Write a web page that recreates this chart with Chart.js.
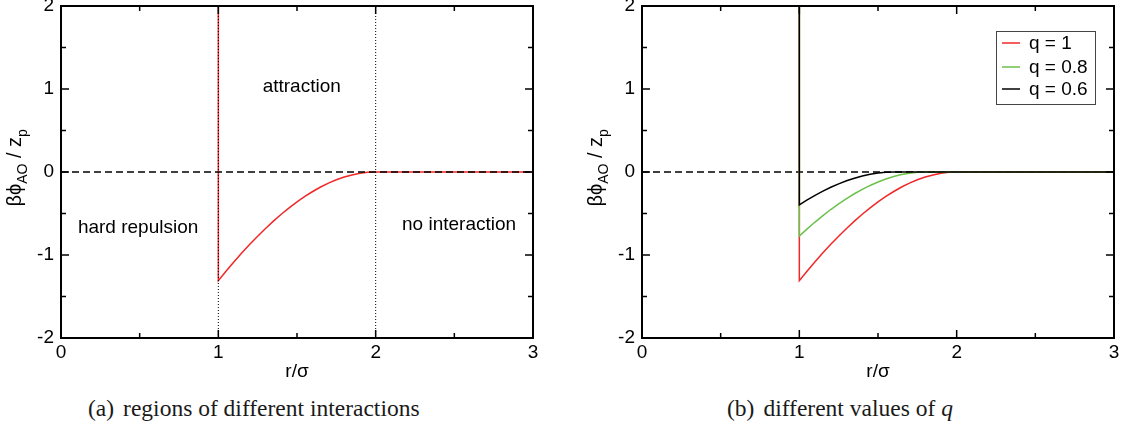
<!DOCTYPE html>
<html>
<head>
<meta charset="utf-8">
<script src="https://cdn.jsdelivr.net/npm/chart.js@4.4.1/dist/chart.umd.min.js"></script>
<style>
  html, body { margin: 0; padding: 0; background: #fff; }
  body { width: 1128px; height: 430px; position: relative; overflow: hidden; }
  canvas { position: absolute; top: -20px; }
  #chartA { left: 0; }
  #chartB { left: 560px; }
  .caption {
    position: absolute; top: 396px; line-height: 24px;
    font-family: "Liberation Serif", "DejaVu Serif", serif; font-size: 23.5px;
    color: #1a1a1a; white-space: nowrap;
  }
  .caption .tag { margin-right: 9px; }
</style>
</head>
<body>
<canvas id="chartA" width="560" height="410"></canvas>
<canvas id="chartB" width="568" height="410"></canvas>
<div class="caption" style="left: 88px;"><span class="tag">(a)</span>regions of different interactions</div>
<div class="caption" style="left: 727px;"><span class="tag">(b)</span>different values of <i>q</i></div>

<script>
// Axis ticks
const xTicks = [0, 1, 2, 3];
const yTicks = [-2, -1, 0, 1, 2];

// Hard core part for r < σ (shown at the top of the axis)
const coreR = [0];
const coreTop = [2];

// βϕ_AO / z_p against r/σ for each size ratio q
const rQ1 = [1, 1.00, 1.05, 1.10, 1.15, 1.20, 1.25, 1.30, 1.35, 1.40, 1.45, 1.50,
             1.55, 1.60, 1.65, 1.70, 1.75, 1.80, 1.85, 1.90, 1.95, 2.00, 3];
const phiQ1 = [2, -1.309, -1.193, -1.082, -0.974, -0.871, -0.773, -0.680, -0.592, -0.509, -0.432, -0.360,
               -0.294, -0.235, -0.181, -0.134, -0.094, -0.061, -0.035, -0.015, -0.004, 0, 0];

const rQ08 = [1, 1.00, 1.05, 1.10, 1.15, 1.20, 1.25, 1.30, 1.35, 1.40, 1.45, 1.50,
              1.55, 1.60, 1.65, 1.70, 1.75, 1.80, 3];
const phiQ08 = [2, -0.771, -0.685, -0.603, -0.525, -0.452, -0.384, -0.321, -0.262, -0.209, -0.162, -0.120,
                -0.084, -0.055, -0.031, -0.014, -0.004, 0, 0];

const rQ06 = [1, 1.00, 1.05, 1.10, 1.15, 1.20, 1.25, 1.30, 1.35, 1.40, 1.45, 1.50, 1.55, 1.60, 3];
const phiQ06 = [2, -0.396, -0.337, -0.281, -0.231, -0.184, -0.143, -0.106, -0.075, -0.048, -0.027, -0.012,
                -0.003, 0, 0];

const qLabels = ["q = 1", "q = 0.8", "q = 0.6"];
const qColors = ["#f02828", "#6cc04c", "#000000"];

// Zero line and the borders of the attraction range (σ and 2σ for q = 1)
const zeroLineR = [0, 3];
const rangeR = [1, 2];

const regionLabels = ["hard repulsion", "attraction", "no interaction"];

const SANS = '"Liberation Sans", Arial, Helvetica, sans-serif';
Chart.defaults.font.family = SANS;
Chart.defaults.font.size = 19;
Chart.defaults.color = "#000";

function toPoints(xs, ys) {
  return xs.map((x, i) => ({ x: x, y: ys[i] }));
}

function lineSet(points, color, width, dash, order) {
  return {
    data: points,
    showLine: true,
    borderColor: color,
    backgroundColor: color,
    borderWidth: width,
    borderDash: dash || [],
    pointRadius: 0,
    pointHoverRadius: 0,
    tension: 0,
    order: order
  };
}

// Frame with inward ticks on all four sides plus the rotated y title
const frameTicks = {
  id: "frameTicks",
  afterDatasetsDraw(chart) {
    const { ctx, chartArea: a, scales: { x, y } } = chart;
    const midpoints = arr => arr.slice(1).map((v, i) => (v + arr[i]) / 2);
    ctx.save();
    ctx.strokeStyle = "#000";
    ctx.lineWidth = 1.5;
    ctx.beginPath();
    const xMarks = xTicks.map(v => [v, 8]).concat(midpoints(xTicks).map(v => [v, 5]));
    const yMarks = yTicks.map(v => [v, 8]).concat(midpoints(yTicks).map(v => [v, 5]));
    xMarks.forEach(([v, len]) => {
      const px = x.getPixelForValue(v);
      ctx.moveTo(px, a.bottom); ctx.lineTo(px, a.bottom - len);
      ctx.moveTo(px, a.top); ctx.lineTo(px, a.top + len);
    });
    yMarks.forEach(([v, len]) => {
      const py = y.getPixelForValue(v);
      ctx.moveTo(a.left, py); ctx.lineTo(a.left + len, py);
      ctx.moveTo(a.right, py); ctx.lineTo(a.right - len, py);
    });
    ctx.stroke();
    ctx.lineWidth = 2;
    ctx.strokeRect(a.left, a.top, a.right - a.left, a.bottom - a.top);

    // βϕ_AO / z_p with subscripts
    const main = "20px " + SANS;
    const sub = "14px " + SANS;
    const parts = [["βϕ", main, 0], ["AO", sub, 6], [" / z", main, 0], ["p", sub, 6]];
    ctx.translate(a.left - 40, y.getPixelForValue(0.05));
    ctx.rotate(-Math.PI / 2);
    let total = 0;
    parts.forEach(p => { ctx.font = p[1]; total += ctx.measureText(p[0]).width; });
    let cx = -total / 2;
    ctx.fillStyle = "#000";
    ctx.textBaseline = "alphabetic";
    parts.forEach(p => {
      ctx.font = p[1];
      ctx.fillText(p[0], cx, p[2]);
      cx += ctx.measureText(p[0]).width;
    });
    ctx.restore();
  }
};

// Region names placed at data coordinates
const regionText = {
  id: "regionText",
  afterDatasetsDraw(chart, args, opts) {
    if (!opts.spots) return;
    const { ctx, scales: { x, y } } = chart;
    ctx.save();
    ctx.font = "19px " + SANS;
    ctx.fillStyle = "#000";
    ctx.textAlign = "center";
    ctx.textBaseline = "middle";
    opts.spots.forEach((s, i) => {
      ctx.fillText(regionLabels[i], x.getPixelForValue(s[0]), y.getPixelForValue(s[1]));
    });
    ctx.restore();
  }
};

// Boxed legend in the upper right of the plot
const boxLegend = {
  id: "boxLegend",
  afterDatasetsDraw(chart, args, opts) {
    if (!opts.show) return;
    const { ctx, chartArea: a } = chart;
    const left = a.right - 118, top = a.top + 25, w = 99, h = 73;
    ctx.save();
    ctx.fillStyle = "#fff";
    ctx.fillRect(left, top, w, h);
    ctx.strokeStyle = "#444";
    ctx.lineWidth = 1;
    ctx.strokeRect(left + 0.5, top + 0.5, w, h);
    ctx.font = "19px " + SANS;
    ctx.textBaseline = "middle";
    ctx.textAlign = "left";
    [12, 36, 58].forEach((dy, i) => {
      ctx.strokeStyle = qColors[i];
      ctx.lineWidth = 1.5;
      ctx.beginPath();
      ctx.moveTo(left + 6, top + dy);
      ctx.lineTo(left + 24, top + dy);
      ctx.stroke();
      ctx.fillStyle = "#000";
      ctx.fillText(qLabels[i], left + 33, top + dy + 1);
    });
    ctx.restore();
  }
};

function makeOptions(axisWidth, padRight, extra) {
  return {
    responsive: false,
    animation: false,
    events: [],
    layout: { padding: { top: 26, right: padRight, bottom: 0, left: 0 } },
    scales: {
      x: {
        type: "linear", min: 0, max: 3,
        afterBuildTicks: s => { s.ticks = xTicks.map(v => ({ value: v })); },
        afterFit: s => { s.height = 52; },
        grid: { display: false, drawTicks: false },
        border: { display: false },
        ticks: { padding: 3, maxRotation: 0 },
        title: { display: true, text: "r/σ", font: { size: 19 }, padding: { top: 0, bottom: 7 } }
      },
      y: {
        type: "linear", min: -2, max: 2,
        afterBuildTicks: s => { s.ticks = yTicks.map(v => ({ value: v })); },
        afterFit: s => { s.width = axisWidth; },
        grid: { display: false, drawTicks: false },
        border: { display: false },
        ticks: { padding: 7 }
      }
    },
    plugins: Object.assign({
      legend: { display: false },
      tooltip: { enabled: false }
    }, extra)
  };
}

// (a) regions of the q = 1 potential
new Chart(document.getElementById("chartA"), {
  type: "scatter",
  data: {
    datasets: [
      lineSet(toPoints(zeroLineR, [0, 0]), "#000", 1.5, [7, 4], 0),
      lineSet(toPoints([rangeR[0], rangeR[0]], [yTicks[0], yTicks[yTicks.length - 1]]), "#000", 1, [1, 2], 1),
      lineSet(toPoints([rangeR[1], rangeR[1]], [yTicks[0], yTicks[yTicks.length - 1]]), "#000", 1, [1, 2], 2),
      lineSet(toPoints(rQ1, phiQ1), qColors[0], 1.5, null, 3)
    ]
  },
  options: makeOptions(61, 27, { regionText: { spots: [[0.49, -0.67], [1.53, 1.03], [2.53, -0.63]] } }),
  plugins: [regionText, frameTicks]
});

// (b) potential for several size ratios
new Chart(document.getElementById("chartB"), {
  type: "scatter",
  data: {
    datasets: [
      lineSet(toPoints(coreR.concat(rQ06), coreTop.concat(phiQ06)), qColors[2], 1.5, null, 0),
      lineSet(toPoints(coreR.concat(rQ08), coreTop.concat(phiQ08)), qColors[1], 1.5, null, 1),
      lineSet(toPoints(coreR.concat(rQ1), coreTop.concat(phiQ1)), qColors[0], 1.5, null, 2),
      lineSet(toPoints(zeroLineR, [0, 0]), "#000", 1.5, [7, 4], 3)
    ]
  },
  options: makeOptions(82, 14, { boxLegend: { show: true } }),
  plugins: [boxLegend, frameTicks]
});
</script>
</body>
</html>
